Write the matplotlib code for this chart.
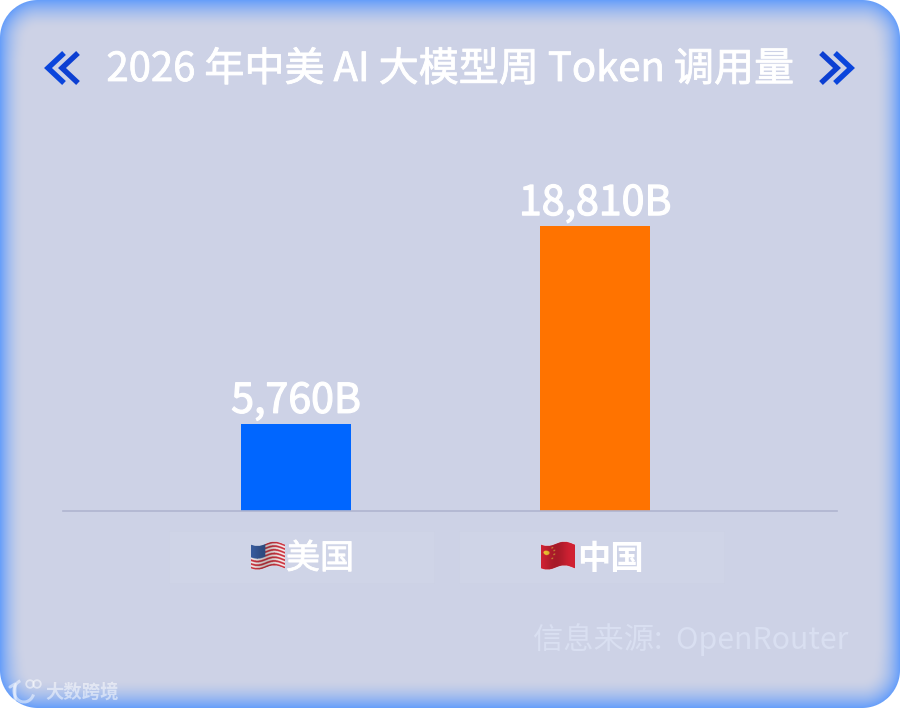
# -*- coding: utf-8 -*-
# 2026 weekly token calls, US vs China, on a glowing rounded card
import numpy as np
import matplotlib
matplotlib.use("Agg")
import matplotlib.pyplot as plt
import matplotlib.patheffects as pe
from matplotlib.patches import Rectangle, Arc, Circle

plt.rcParams['font.family'] = ['Noto Sans CJK SC', 'DejaVu Sans']

# data
categories = ['美国', '中国']
values = [5760, 18810]
value_labels = ['5,760B', '18,810B']
bar_colors = ['#0066ff', '#ff7300']
title = '2026 年中美 AI 大模型周 Token 调用量'
source = '信息来源:  OpenRouter'
brand = '大数跨境'

W, H = 900, 708
fig = plt.figure(figsize=(W / 100, H / 100), dpi=100, facecolor='white')

# fake a medium weight, only regular and bold come through
medium = [pe.withStroke(linewidth=0.6, foreground='white')]

# card background: rounded rectangle with a blue glow along the edge
bg = fig.add_axes([0, 0, 1, 1])
bg.set_xlim(0, W)
bg.set_ylim(H, 0)
bg.axis('off')
radius = 38
xx, yy = np.meshgrid(np.arange(W) + 0.5, np.arange(H) + 0.5)
qx = np.abs(xx - W / 2) - (W / 2 - radius)
qy = np.abs(yy - H / 2) - (H / 2 - radius)
dist = np.hypot(np.maximum(qx, 0), np.maximum(qy, 0)) + np.minimum(np.maximum(qx, qy), 0) - radius
depth = -dist
# glow reaches a bit further on top and bottom than on the sides
reach = 24 + 8 * np.clip((np.abs(yy - H / 2) - (H / 2 - 60)) / 60, 0, 1)
glow = np.clip(1 - depth / reach, 0, 1) ** 1.8
edge = np.array([0.40, 0.62, 0.98])
base = np.array([0.804, 0.824, 0.902])
img = np.ones((H, W, 4))
img[..., :3] = base + (edge - base) * glow[..., None]
img[..., 3] = np.clip(depth + 0.5, 0, 1)
bg.imshow(img, extent=(0, W, H, 0), aspect='auto', interpolation='nearest', zorder=0)


def chevrons(x_tips, direction):
    for x_tip, col in zip(x_tips, ['#0a45dc', '#0c3fd2']):
        bg.plot([x_tip + direction * 16, x_tip, x_tip + direction * 16], [53, 68, 83],
                color=col, lw=3.9, solid_joinstyle='miter', solid_capstyle='butt', zorder=3)


chevrons([48, 62], 1)
chevrons([851, 837], -1)

bg.text(450, 70, title, color='white', fontsize=28.85, ha='center', va='center',
        zorder=4, path_effects=medium)

# label boxes under the bars
for x0 in [169, 459]:
    bg.add_patch(Rectangle((x0, 531), 265, 52, facecolor='white', alpha=0.05,
                           edgecolor='#c6cbdf', lw=0.5, zorder=1))


def flag_image(kind):
    h, w = 96, 128
    out = np.ones((h, w, 4))
    out[..., 3] = 0
    for col in range(w):
        t = col / (w - 1)
        shift = 7 * np.sin(2 * np.pi * t + 0.4)
        for row in range(h):
            v = (row - 8 - shift) / 80
            if v < 0 or v > 1:
                continue
            if kind == 'us':
                stripe = int(v * 13) % 2
                rgb = [0.80, 0.20, 0.25] if stripe == 0 else [0.96, 0.93, 0.93]
                if t < 0.42 and v < 7 / 13:
                    rgb = [0.22, 0.36, 0.62]
            else:
                rgb = [0.82, 0.13, 0.20]
                if np.hypot(t - 0.16, v - 0.30) < 0.09:
                    rgb = [0.98, 0.80, 0.20]
                for st, sv in [(0.33, 0.12), (0.39, 0.26), (0.39, 0.42), (0.33, 0.56)]:
                    if np.hypot(t - st, v - sv) < 0.03:
                        rgb = [0.95, 0.65, 0.25]
            shade = 0.9 + 0.1 * np.sin(2 * np.pi * t + 2.0)
            out[row, col, :3] = np.array(rgb) * shade
            out[row, col, 3] = 1
    return out


bg.imshow(flag_image('us'), extent=(251, 285, 570, 541), aspect='auto',
          interpolation='antialiased', zorder=3)
bg.imshow(flag_image('cn'), extent=(541, 575, 570, 541), aspect='auto',
          interpolation='antialiased', zorder=3)
bg.set_xlim(0, W)
bg.set_ylim(H, 0)

bg.text(286, 559, categories[0], color='white', fontsize=24.5, ha='left', va='center',
        zorder=4, path_effects=medium)
bg.text(577, 559, categories[1], color='white', fontsize=24, fontweight='bold',
        ha='left', va='center', zorder=4)

bg.text(848, 640, source, color='#d9dff1', fontsize=21.8, ha='right', va='center', zorder=4)

# watermark in the lower left corner
wm = dict(color='white', alpha=0.5, zorder=4)
bg.plot([10, 15, 15], [687, 684, 700], lw=2.2, solid_capstyle='round', **wm)
bg.add_patch(Arc((24, 691), 20, 22, theta1=20, theta2=250, lw=2.2, fill=False, **wm))
bg.add_patch(Circle((30, 684), 3.8, fill=False, lw=1.3, **wm))
bg.add_patch(Circle((37, 684), 3.8, fill=False, lw=1.3, **wm))
bg.text(45, 692, brand, color='white', alpha=0.5, fontsize=13.2, fontweight='bold',
        ha='left', va='center', zorder=4)

# the bars themselves, axes placed so the baseline sits at y=511 px
ax = fig.add_axes([63 / W, 1 - 511 / H, (837 - 63) / W, 411 / H], facecolor='none')
ax.set_xlim(-0.779, 1.809)
ax.set_ylim(0, 27130)
bars = ax.bar(range(len(values)), values, width=0.368, color=bar_colors, zorder=2)
for b, label in zip(bars, value_labels):
    ax.annotate(label, (b.get_x() + b.get_width() / 2, b.get_height()), xytext=(0, 1.4),
                textcoords='offset points', ha='center', va='bottom', color='white',
                fontsize=29.6, path_effects=[pe.withStroke(linewidth=0.9, foreground='white')])
for side in ['top', 'left', 'right']:
    ax.spines[side].set_visible(False)
ax.spines['bottom'].set_color('#b0b5d0')
ax.spines['bottom'].set_linewidth(1.2)
ax.set_xticks([])
ax.set_yticks([])

fig.savefig('out.png', dpi=100, facecolor='white')
